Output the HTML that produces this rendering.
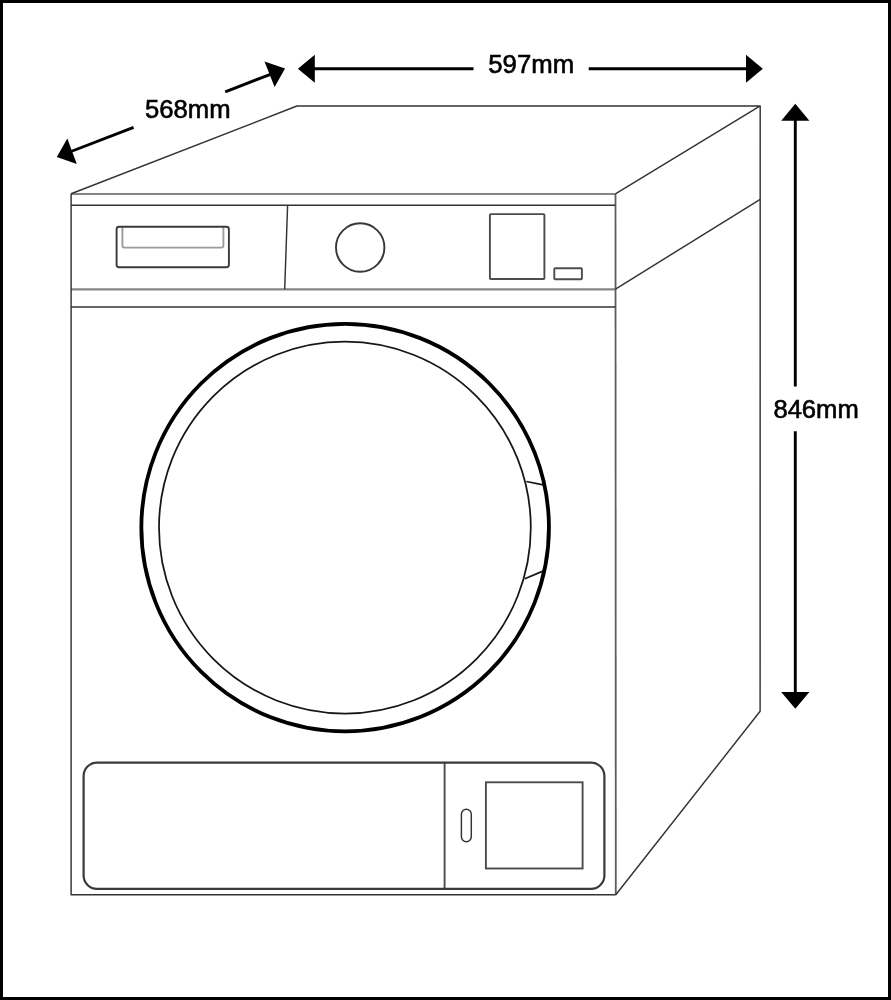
<!DOCTYPE html>
<html>
<head>
<meta charset="utf-8">
<title>Dryer dimensions</title>
<style>
  html, body { margin: 0; padding: 0; background: #ffffff; }
  body { width: 891px; height: 1000px; overflow: hidden; font-family: "Liberation Sans", sans-serif; }
  svg { display: block; }
  .t { font-family: "Liberation Sans", sans-serif; font-size: 25px; fill: #000; stroke: #000; stroke-width: 0.6px; }
</style>
</head>
<body>
<svg width="891" height="1000" viewBox="0 0 891 1000">
  <rect x="0" y="0" width="891" height="1000" fill="#ffffff"/>
  <!-- outer frame -->
  <rect x="1.5" y="1.5" width="888" height="997" fill="none" stroke="#000" stroke-width="3"/>

  <!-- lighter lines -->
  <g fill="none" stroke="#858585" stroke-width="2.2">
    <path d="M71.1 194 H615.4"/>
    <path d="M71.1 289.3 H615.5"/>
  </g>
  <path d="M615.8 894.7 L615.5 194" fill="none" stroke="#5c5c5c" stroke-width="1.8"/>
  <g fill="none" stroke="#4c4c4c" stroke-width="1.9" stroke-linejoin="miter">
    <rect x="489.9" y="214.1" width="54.5" height="64.9" rx="0.8"/>
    <rect x="554.3" y="268.2" width="27.6" height="11" rx="0.8"/>
    <path d="M444.6 762.7 V888.9"/>
    <rect x="485.9" y="782.3" width="96.7" height="86.2"/>
  </g>
  <circle cx="360.2" cy="247.5" r="24.2" fill="none" stroke="#383838" stroke-width="1.9"/>
  <!-- drawer -->
  <path d="M122.4 227 V245.6 Q122.4 247.6 124.4 247.6 H221.4 Q223.4 247.6 223.4 245.6 V227" fill="none" stroke="#9c9c9c" stroke-width="1.9"/>
  <rect x="116.6" y="226.8" width="112.3" height="40.4" rx="2.5" fill="none" stroke="#3a3a3a" stroke-width="1.9"/>
  <!-- appliance body: thin lines -->
  <g fill="none" stroke="#333333" stroke-width="1.45" stroke-linejoin="round">
    <!-- front face sides + bottom -->
    <path d="M71.1 193.8 L71.1 894.7 L615.8 894.7"/>
    <!-- top face -->
    <path d="M71.1 193.8 L296.9 106 L760.2 105.9 L615.4 193.8"/>
    <!-- right side -->
    <path d="M760.2 105.9 L760.1 711.3 L615.8 894.7"/>
    <path d="M615.5 289.1 L760.2 199.3"/>
    <!-- control panel lines -->
    <path d="M71.1 205.2 H615.5"/>
    <path d="M71.1 307 H615.5"/>
    <path d="M287.6 205.2 L284.7 289.2"/>
    <!-- door handle pill on bottom panel -->
    <rect x="461.4" y="809.2" width="9.9" height="32.5" rx="4.95"/>
  </g>
  <!-- bottom panel outline -->
  <rect x="83.6" y="762.7" width="520.8" height="126.2" rx="13.3" fill="none" stroke="#3a3a3a" stroke-width="2.2"/>
  <!-- door rings + handle -->
  <g fill="none" stroke="#161616" stroke-width="1.75">
    <circle cx="344.9" cy="527.6" r="185.9"/>
    <path d="M526.4 481.5 L543.2 484.9"/>
    <path d="M524.8 578.8 L542.9 571.1"/>
  </g>
  <circle cx="345.15" cy="527.6" r="203.8" fill="none" stroke="#000" stroke-width="3.8"/>

  <!-- dimension arrows -->
  <g stroke="#000" stroke-width="2.9" fill="none">
    <path d="M313 68.75 H473.5"/>
    <path d="M588.7 68.75 H748"/>
    <path d="M795.3 119 V386.5"/>
    <path d="M795.3 431.3 V694"/>
    <path d="M225.2 91.8 L270.5 74.3"/>
    <path d="M133.6 127.3 L71 151.5"/>
  </g>
  <g fill="#000" stroke="none">
    <path d="M297.9 68.85 L314.8 54.85 L314.8 82.85 Z"/>
    <path d="M762.8 68.85 L746 54.85 L746 82.85 Z"/>
    <path d="M795.3 103.7 L781.2 120.8 L809.4 120.8 Z"/>
    <path d="M795.3 708.8 L781.2 692 L809.4 692 Z"/>
    <path d="M285 68.55 L264.5 61.5 L274.6 87.1 Z"/>
    <path d="M56.8 156.9 L67.3 138.6 L76.8 163.9 Z"/>
  </g>

  <!-- labels -->
  <g style="filter:grayscale(1)">
  <text class="t" x="145" y="117.6" textLength="85.6" lengthAdjust="spacingAndGlyphs">568mm</text>
  <text class="t" x="488.3" y="73.1" textLength="85.8" lengthAdjust="spacingAndGlyphs">597mm</text>
  <text class="t" x="773.4" y="417.8" textLength="85.4" lengthAdjust="spacingAndGlyphs">846mm</text>
  </g>
</svg>
</body>
</html>
